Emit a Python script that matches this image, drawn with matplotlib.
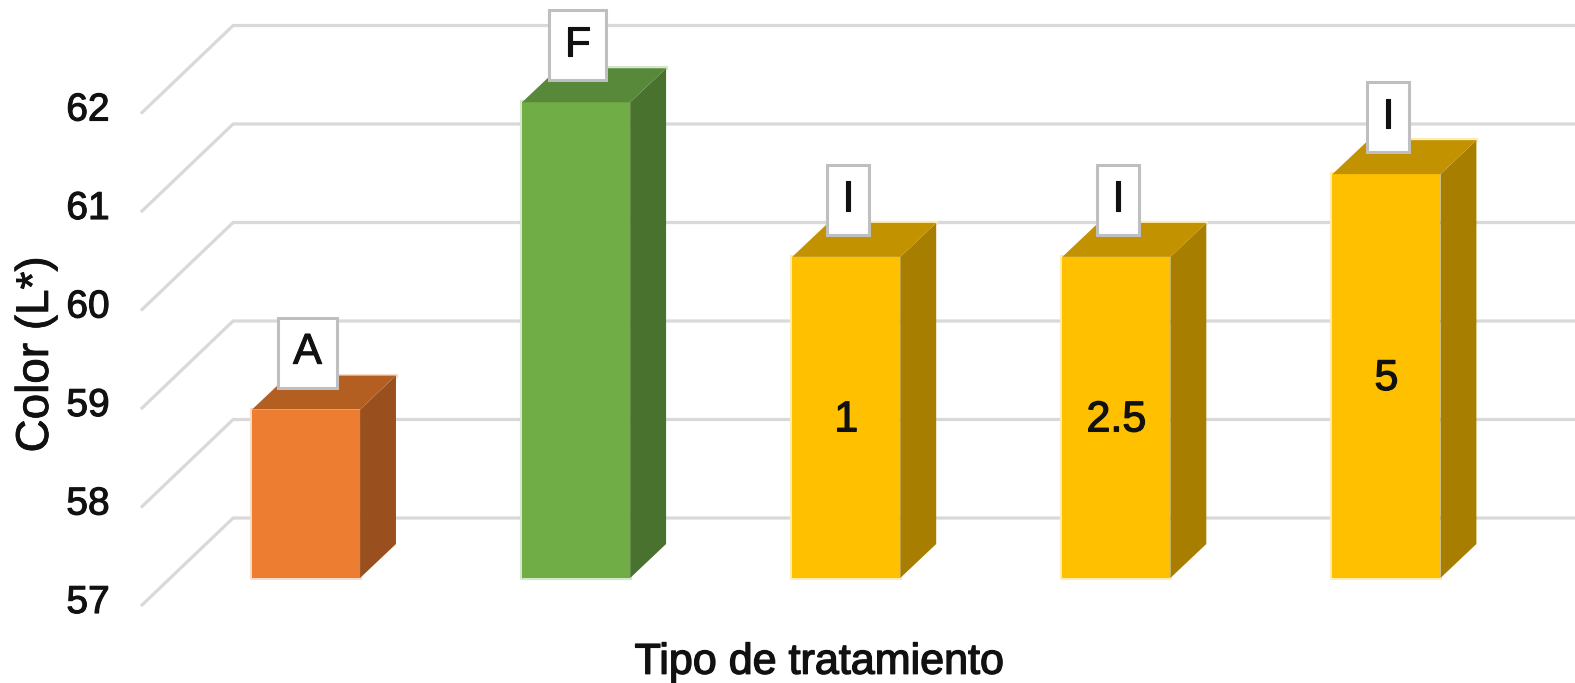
"""Fake-3D column chart of L* colour per treatment type."""
import matplotlib
matplotlib.use('Agg')
import matplotlib.pyplot as plt
import matplotlib.patheffects as pe
from matplotlib.patches import Polygon

treatments = ['A', 'F', 'I', 'I', 'I']
inner_labels = ['', '', '1', '2.5', '5']
values = [58.71, 61.83, 60.26, 60.26, 61.10]
y_ticks = [57, 58, 59, 60, 61, 62]
y_label = 'Color (L*)'
x_label = 'Tipo de tratamiento'

front_colors = ['#ED7D31', '#70AD47', '#FFC000', '#FFC000', '#FFC000']
side_colors = ['#9A501E', '#4A722F', '#A87E00', '#A87E00', '#A87E00']
top_colors = ['#B35F22', '#58883A', '#C29200', '#C29200', '#C29200']
pale_colors = ['#F9DCC8', '#D5E6CA', '#FFECB3', '#FFECB3', '#FFECB3']

BASE = 57
BAR_W = 0.40
DEPTH_X = 0.133
DEPTH_Y = 0.345
WALL_X0, WALL_X1 = -0.607, -0.270
FLOOR_DY, WALL_DY = -0.274, 0.609
X_MAX = 4.698
GRID = '#D9D9D9'
INK = '#111111'

plt.rcParams['font.family'] = ['Liberation Sans', 'DejaVu Sans']


def heavy(width):
    # fake a semi-bold weight, the regular face is closer in width to the original
    return [pe.withStroke(linewidth=width, foreground=INK)]


fig = plt.figure(figsize=(15.75, 6.83), dpi=100)
ax = fig.add_axes([0, 0, 1, 1])
ax.set_xlim(-1.133, X_MAX)
ax.set_ylim(55.934, 62.868)
ax.axis('off')

# back wall lines and the diagonals down the side wall
for t in y_ticks:
    ax.plot([WALL_X0, WALL_X1, X_MAX], [t + FLOOR_DY, t + WALL_DY, t + WALL_DY],
            color=GRID, lw=2.3, solid_joinstyle='miter', zorder=1)
    ax.text(-0.807, t + FLOOR_DY + 0.02, str(t), fontsize=28,
            ha='center', va='center', color=INK, zorder=5, path_effects=heavy(0.8))

xs = range(len(values))
ax.bar(xs, [v - BASE for v in values], bottom=BASE, width=BAR_W,
       color=front_colors, zorder=3)

for i, v in enumerate(values):
    l, r = i - BAR_W / 2, i + BAR_W / 2
    # pale fringe on the left, bottom and back edges
    ax.plot([l, l, r], [v, BASE, BASE], color=pale_colors[i], lw=3, zorder=2.5)
    ax.plot([l + DEPTH_X, r + DEPTH_X], [v + DEPTH_Y, v + DEPTH_Y],
            color=pale_colors[i], lw=3, zorder=2.5)
    ax.add_patch(Polygon([(r, BASE), (r + DEPTH_X, BASE + DEPTH_Y),
                          (r + DEPTH_X, v + DEPTH_Y), (r, v)],
                         closed=True, color=side_colors[i], lw=0, zorder=4))
    ax.add_patch(Polygon([(l, v), (l + DEPTH_X, v + DEPTH_Y),
                          (r + DEPTH_X, v + DEPTH_Y), (r, v)],
                         closed=True, color=top_colors[i], lw=0, zorder=4))
    ax.annotate(treatments[i], (i, v), xytext=(1, 41), textcoords='offset points',
                fontsize=31, ha='center', va='center', color=INK, zorder=6,
                path_effects=heavy(0.8),
                bbox=dict(boxstyle='square,pad=0.35', fc='white', ec='#BFBFBF', lw=2.2))
    if inner_labels[i]:
        ax.text(i, (v + BASE) / 2 - 0.03, inner_labels[i], fontsize=31,
                ha='center', va='center', color=INK, zorder=6, path_effects=heavy(0.9))

ax.text(-1.0, 59.27, y_label, rotation=90, fontsize=33,
        ha='center', va='center', color=INK, zorder=5, path_effects=heavy(0.6))
ax.text(1.90, 56.14, x_label, fontsize=31,
        ha='center', va='center', color=INK, zorder=5, path_effects=heavy(1.0))

fig.savefig('out.png', dpi=100)
